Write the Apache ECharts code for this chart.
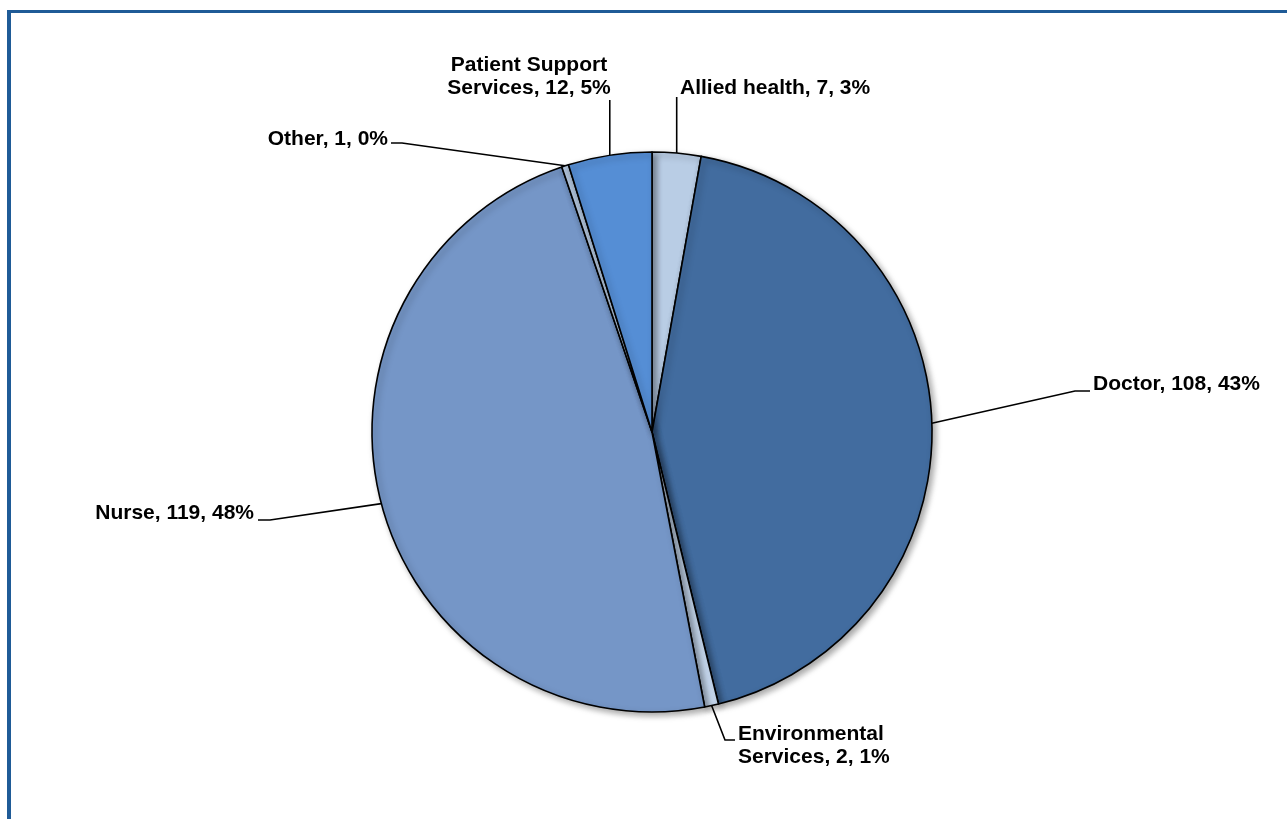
<!DOCTYPE html>
<html>
<head>
<meta charset="utf-8">
<script src="https://cdn.jsdelivr.net/npm/echarts@6/dist/echarts.min.js"></script>
<style>
html,body{margin:0;padding:0;background:#fff;overflow:hidden;}
#frame{position:absolute;left:7px;top:10px;width:1300px;height:830px;border-left:4px solid #1F5B97;border-top:3px solid #1F5B97;box-sizing:border-box;}
#chart{position:absolute;left:0;top:0;width:1287px;height:819px;}
</style>
</head>
<body>
<div id="frame"></div>
<div id="chart"></div>
<script>
const categories = ['Allied health', 'Doctor', 'Environmental Services', 'Nurse', 'Other', 'Patient Support Services'];
const values = [7, 108, 2, 119, 1, 12];
const colors = ['#B9CDE5', '#426C9F', '#C6D8EE', '#7596C7', '#B9CDE5', '#558ED5'];

const chart = echarts.init(document.getElementById('chart'), null, {renderer: 'canvas'});

const labelPlace = {
  0: {x: 680, y: 88, align: 'left', bend: [[null, 97]]},
  1: {x: 1093, y: 384, align: 'left', bend: [[1075, 391], [1090, 391]]},
  2: {x: 738, y: 746, align: 'left', bend: [[725, 740], [735, 740]]},
  3: {x: 254, y: 513, align: 'right', bend: [[270, 520], [258, 520]]},
  4: {x: 388, y: 139, align: 'right', bend: [[402, 143], [391, 143]]},
  5: {x: 529, y: 77, align: 'center', bend: [[null, 100]]}
};

chart.setOption({
  animation: false,
  backgroundColor: 'transparent',
  series: [{
    type: 'pie',
    center: [652, 432],
    radius: 280,
    startAngle: 90,
    clockwise: true,
    avoidLabelOverlap: false,
    data: categories.map((c, i) => ({name: c, value: values[i], itemStyle: {color: colors[i]}})),
    itemStyle: {
      borderColor: '#000',
      borderWidth: 1.6,
      shadowBlur: 6,
      shadowOffsetX: 3,
      shadowOffsetY: 3,
      shadowColor: 'rgba(0,0,0,0.35)'
    },
    label: {
      show: true,
      position: 'outside',
      color: '#000',
      fontFamily: 'Liberation Sans, Arial, sans-serif',
      fontWeight: 'bold',
      fontSize: 21,
      lineHeight: 23,
      formatter: p => p.name.replace(' Services', '\nServices') + ', ' + p.value + ', ' + Math.round(p.percent) + '%'
    },
    labelLine: {
      show: true,
      length: 30,
      length2: 10,
      lineStyle: {color: '#000', width: 1.6}
    },
    labelLayout: function (params) {
      const cfg = labelPlace[params.dataIndex];
      const p0 = params.labelLinePoints ? params.labelLinePoints[0] : null;
      const res = {x: cfg.x, y: cfg.y, align: cfg.align, verticalAlign: 'middle'};
      if (p0) {
        const pts = [[p0[0], p0[1]]];
        cfg.bend.forEach(b => pts.push([b[0] === null ? p0[0] : b[0], b[1]]));
        if (pts.length < 3) pts.push(pts[pts.length - 1].slice());
        res.labelLinePoints = pts;
      }
      return res;
    }
  }]
});
</script>
</body>
</html>
